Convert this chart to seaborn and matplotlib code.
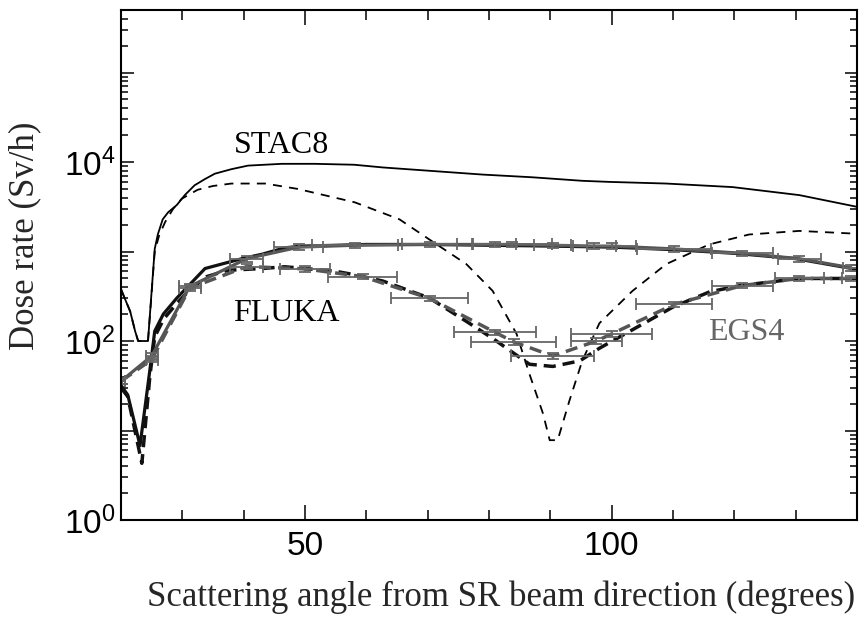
import numpy as np
import pandas as pd
import seaborn as sns
import matplotlib.pyplot as plt
from matplotlib.ticker import FixedLocator, LogLocator, FuncFormatter, NullFormatter

# STAC8 (thin black lines)
stac_x = [20, 20.65, 21.5, 22.3, 22.8, 24.4, 25.5, 26, 26.8, 27.7, 29.1, 30.4, 32, 33.7, 35.3,
          38, 40.7, 46.2, 51.6, 58, 62.7, 70.8, 79, 87, 95.2, 99.6, 108.9, 119.7, 130.6, 140]
stac_solid = [380, 295, 214, 129, 100, 100, 1070, 1550, 2290, 2750, 3310, 4270, 5500, 6460, 7410,
              8320, 9120, 9550, 9550, 9330, 8700, 7940, 7240, 6760, 6170, 6000, 5750, 5250, 4270, 3160]

stac_dx = [20, 20.65, 21.5, 22.3, 22.8, 24.4, 25.5, 26.2, 27.2, 28.5, 29.9, 32.5, 35, 38, 43.5,
           48.8, 54.4, 58.1, 65.4, 70.8, 76.3, 80.6, 84.5, 86.6, 88.8, 89.9, 91.2, 93.1, 95.2,
           98, 103.4, 108.9, 115.9, 122.4, 130.6, 140]
stac_dashed = [380, 295, 214, 129, 100, 100, 1000, 1500, 2140, 3000, 3890, 4900, 5400, 5750, 5750,
               5010, 4070, 3550, 2290, 1290, 724, 363, 120, 42.7, 15.5, 7.8, 7.8, 21.4, 60,
               158, 363, 724, 1200, 1550, 1700, 1580]

# FLUKA (thick black lines)
fluka_sx = [20, 21.1, 23.1, 24.7, 25.5, 26.9, 29.1, 31.2, 33.7, 36.4, 39.7, 43, 46.7, 49.5,
            55, 60, 70, 80, 90, 100, 110, 120, 130, 140]
fluka_solid = [32, 25, 6.8, 47, 129, 200, 302, 427, 646, 724, 832, 933, 1100, 1150,
               1175, 1200, 1200, 1175, 1150, 1120, 1050, 955, 832, 631]

fluka_dx = [20, 21.1, 23.4, 24.7, 25.5, 27, 29.1, 31.2, 34, 37.4, 43, 46.7, 54.9, 58.1,
            62.7, 70.3, 76.3, 80.6, 86.6, 90.4, 94.8, 98, 104, 110, 116, 121, 130.6, 140]
fluka_dashed = [30, 24, 4.3, 40, 112, 178, 263, 372, 525, 617, 646, 676, 603, 550,
                468, 302, 166, 107, 55, 52, 60, 83, 141, 240, 355, 417, 500, 500]

# EGS4 (thick gray lines with angular bins)
egs_sx = [20.1, 25, 31.2, 40.5, 49, 58.1, 70.3, 80.9, 83.7, 90.4, 97.2, 100, 110.2, 121.3, 130.6, 139]
egs_solid = [36, 68, 407, 832, 1120, 1175, 1200, 1200, 1200, 1175, 1150, 1150, 1070, 955, 832, 660]
egs_sxerr = [0.5, 1, 1.8, 2.7, 4, 7, 4.5, 3.5, 6.5, 3, 3.5, 4, 6, 5, 3.5, 1.2]

egs_dx = [20.1, 25, 31.2, 40.5, 50, 59.4, 70.3, 81, 84, 90.4, 97.5, 100, 110.2, 121.3, 130.6, 139]
egs_dashed = [36, 62, 390, 680, 640, 525, 300, 125, 98, 68, 100, 120, 257, 417, 500, 500]
egs_dxerr = [0.5, 1, 1.8, 2.7, 4, 5.6, 6.3, 6.7, 7, 6.8, 4.2, 6.6, 6.2, 5, 4, 1.5]
rel_err = 0.07

sns.set_style('ticks')
plt.rcParams['font.family'] = ['Liberation Sans', 'DejaVu Sans']
plt.rcParams['mathtext.default'] = 'regular'

fig = plt.figure(figsize=(8.6, 6.17), dpi=100)
ax = fig.add_axes([0.1407, 0.1572, 0.8558, 0.8266])

black = '#000000'
gray = '#555555'
ebc = '#666666'

sns.lineplot(x=stac_x, y=stac_solid, ax=ax, color=black, lw=1.3, sort=False, estimator=None)
sns.lineplot(x=stac_dx, y=stac_dashed, ax=ax, color=black, lw=1.3, sort=False, estimator=None,
             linestyle=(0, (5, 4)))

sns.lineplot(x=fluka_sx, y=fluka_solid, ax=ax, color='#111111', lw=2.3, sort=False, estimator=None)
sns.lineplot(x=fluka_dx, y=fluka_dashed, ax=ax, color='#111111', lw=2.5, sort=False, estimator=None,
             linestyle=(0, (3.5, 2)))

sns.lineplot(x=egs_sx, y=egs_solid, ax=ax, color=gray, lw=2.3, sort=False, estimator=None)
sns.lineplot(x=egs_dx, y=egs_dashed, ax=ax, color=gray, lw=2.5, sort=False, estimator=None,
             linestyle=(0, (3.5, 2)))

for xs, ys, xe in [(egs_sx, egs_solid, egs_sxerr), (egs_dx, egs_dashed, egs_dxerr)]:
    ys = np.array(ys)
    ax.errorbar(xs, ys, xerr=xe, yerr=ys * rel_err, fmt='none', ecolor=ebc,
                elinewidth=1.3, capsize=4, capthick=1.3)

ax.set_yscale('log')
ax.set_xlim(20, 140)
ax.set_ylim(1, 5e5)

ax.xaxis.set_major_locator(FixedLocator([50, 100]))
ax.xaxis.set_minor_locator(FixedLocator([30, 40, 60, 70, 80, 90, 110, 120, 130]))
ax.yaxis.set_major_locator(FixedLocator([1, 10, 100, 1e3, 1e4, 1e5]))
ax.yaxis.set_minor_locator(LogLocator(base=10, subs=np.arange(2, 10)))
ax.yaxis.set_minor_formatter(NullFormatter())
ax.yaxis.set_major_formatter(FuncFormatter(
    lambda v, p: '$10^{%d}$' % round(np.log10(v)) if round(np.log10(v)) % 2 == 0 else ''))

ax.tick_params(which='both', direction='in', top=True, right=True, width=1.1,
               labelsize=24, colors='black')
ax.tick_params(axis='x', which='major', length=11, pad=8)
ax.tick_params(axis='x', which='minor', length=7)
ax.tick_params(axis='y', which='major', length=9, pad=4)
ax.tick_params(axis='y', which='minor', length=5)
for s in ax.spines.values():
    s.set_linewidth(1.5)
    s.set_color('black')

serif = ['Liberation Serif', 'DejaVu Serif']
ax.set_xlabel('Scattering angle from SR beam direction (degrees)', family=serif, fontsize=25)
ax.set_ylabel('Dose rate (Sv/h)', family=serif, fontsize=25)
ax.xaxis.set_label_coords(0.516, -0.118)
ax.yaxis.set_label_coords(-0.108, 0.557)

ax.text(46.2, 15500, 'STAC8', family=serif, fontsize=23, color=black, ha='center', va='center')
ax.text(47, 204, 'FLUKA', family=serif, fontsize=23, color=black, ha='center', va='center')
ax.text(122, 123, 'EGS4', family=serif, fontsize=23, color='#666666', ha='center', va='center')

fig.savefig('out.png', dpi=100)
